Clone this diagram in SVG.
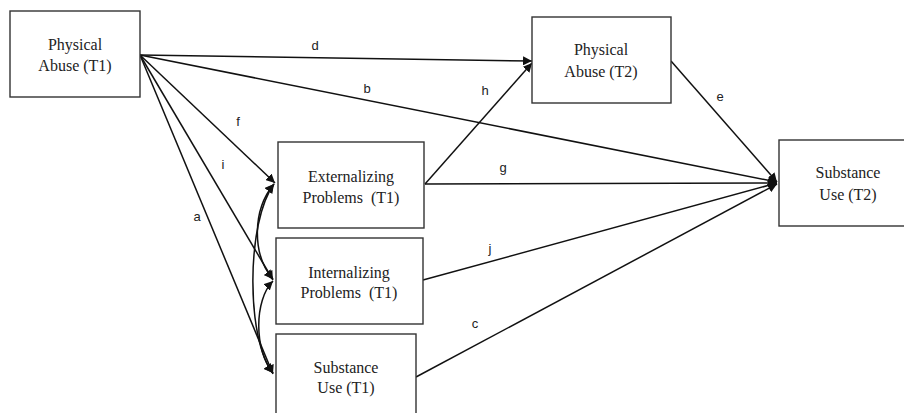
<svg xmlns="http://www.w3.org/2000/svg" width="904" height="413" viewBox="0 0 904 413">
<style>
.box{fill:#fff;stroke:#333;stroke-width:1.4}
.nt{font-family:"Liberation Serif","Times New Roman",serif;font-size:16px;fill:#222;text-anchor:middle;white-space:pre}
.ln{fill:none;stroke:#111;stroke-width:1.5}
.lb{font-family:"Liberation Sans",Arial,sans-serif;font-size:13px;fill:#222;text-anchor:middle}
</style>
<defs>
<marker id="ah" viewBox="0 0 10 10" refX="10" refY="5" markerWidth="6" markerHeight="6" orient="auto-start-reverse" markerUnits="strokeWidth">
<path d="M0,0 L10,5 L0,10 z" fill="#111"/>
</marker>
</defs>
<rect width="904" height="413" fill="#fff"/>
<g id="connectors">
<path class="ln" d="M140,55 L532,61" marker-end="url(#ah)"/>
<path class="ln" d="M140,55 L777,182" marker-end="url(#ah)"/>
<path class="ln" d="M140,55 L275,183" marker-end="url(#ah)"/>
<path class="ln" d="M140,55 L273,280" marker-end="url(#ah)"/>
<path class="ln" d="M140,55 L273,374" marker-end="url(#ah)"/>
<path class="ln" d="M425,184 L532,63" marker-end="url(#ah)"/>
<path class="ln" d="M425,184 L777,183" marker-end="url(#ah)"/>
<path class="ln" d="M423,280 L777,183" marker-end="url(#ah)"/>
<path class="ln" d="M416,377 L777,184" marker-end="url(#ah)"/>
<path class="ln" d="M671,61 L777,182" marker-end="url(#ah)"/>
<path class="ln" d="M274,184 C252,210 252,255 273,279" marker-start="url(#ah)" marker-end="url(#ah)"/>
<path class="ln" d="M273,281 C254,300 254,350 273,373" marker-start="url(#ah)" marker-end="url(#ah)"/>
<path class="ln" d="M274,184 C246,222 246,340 273,373" marker-start="url(#ah)" marker-end="url(#ah)"/>
<text class="lb" x="315" y="50">d</text>
<text class="lb" x="367" y="93">b</text>
<text class="lb" x="485" y="95">h</text>
<text class="lb" x="238" y="126">f</text>
<text class="lb" x="223" y="169">i</text>
<text class="lb" x="197" y="221">a</text>
<text class="lb" x="503" y="172">g</text>
<text class="lb" x="490" y="253">j</text>
<text class="lb" x="475" y="328">c</text>
<text class="lb" x="720" y="101">e</text>
</g>
<g id="pa1">
<rect class="box" x="10" y="11" width="130" height="86"/>
<text class="nt" x="75" y="50">Physical</text>
<text class="nt" x="75" y="71">Abuse (T1)</text>
</g>
<g id="pa2">
<rect class="box" x="532" y="17" width="139" height="86"/>
<text class="nt" x="601" y="55">Physical</text>
<text class="nt" x="601" y="77">Abuse (T2)</text>
</g>
<g id="ext">
<rect class="box" x="278" y="142" width="146" height="86"/>
<text class="nt" x="351" y="182">Externalizing</text>
<text class="nt" x="351" y="203">Problems  (T1)</text>
</g>
<g id="int">
<rect class="box" x="276" y="238" width="147" height="86"/>
<text class="nt" x="349" y="278">Internalizing</text>
<text class="nt" x="349" y="298">Problems  (T1)</text>
</g>
<g id="sub1">
<rect class="box" x="276" y="334" width="140" height="100"/>
<text class="nt" x="346" y="373">Substance</text>
<text class="nt" x="346" y="393">Use (T1)</text>
</g>
<g id="sub2">
<rect class="box" x="779" y="140" width="140" height="86"/>
<text class="nt" x="848" y="178">Substance</text>
<text class="nt" x="848" y="200">Use (T2)</text>
</g>
</svg>
